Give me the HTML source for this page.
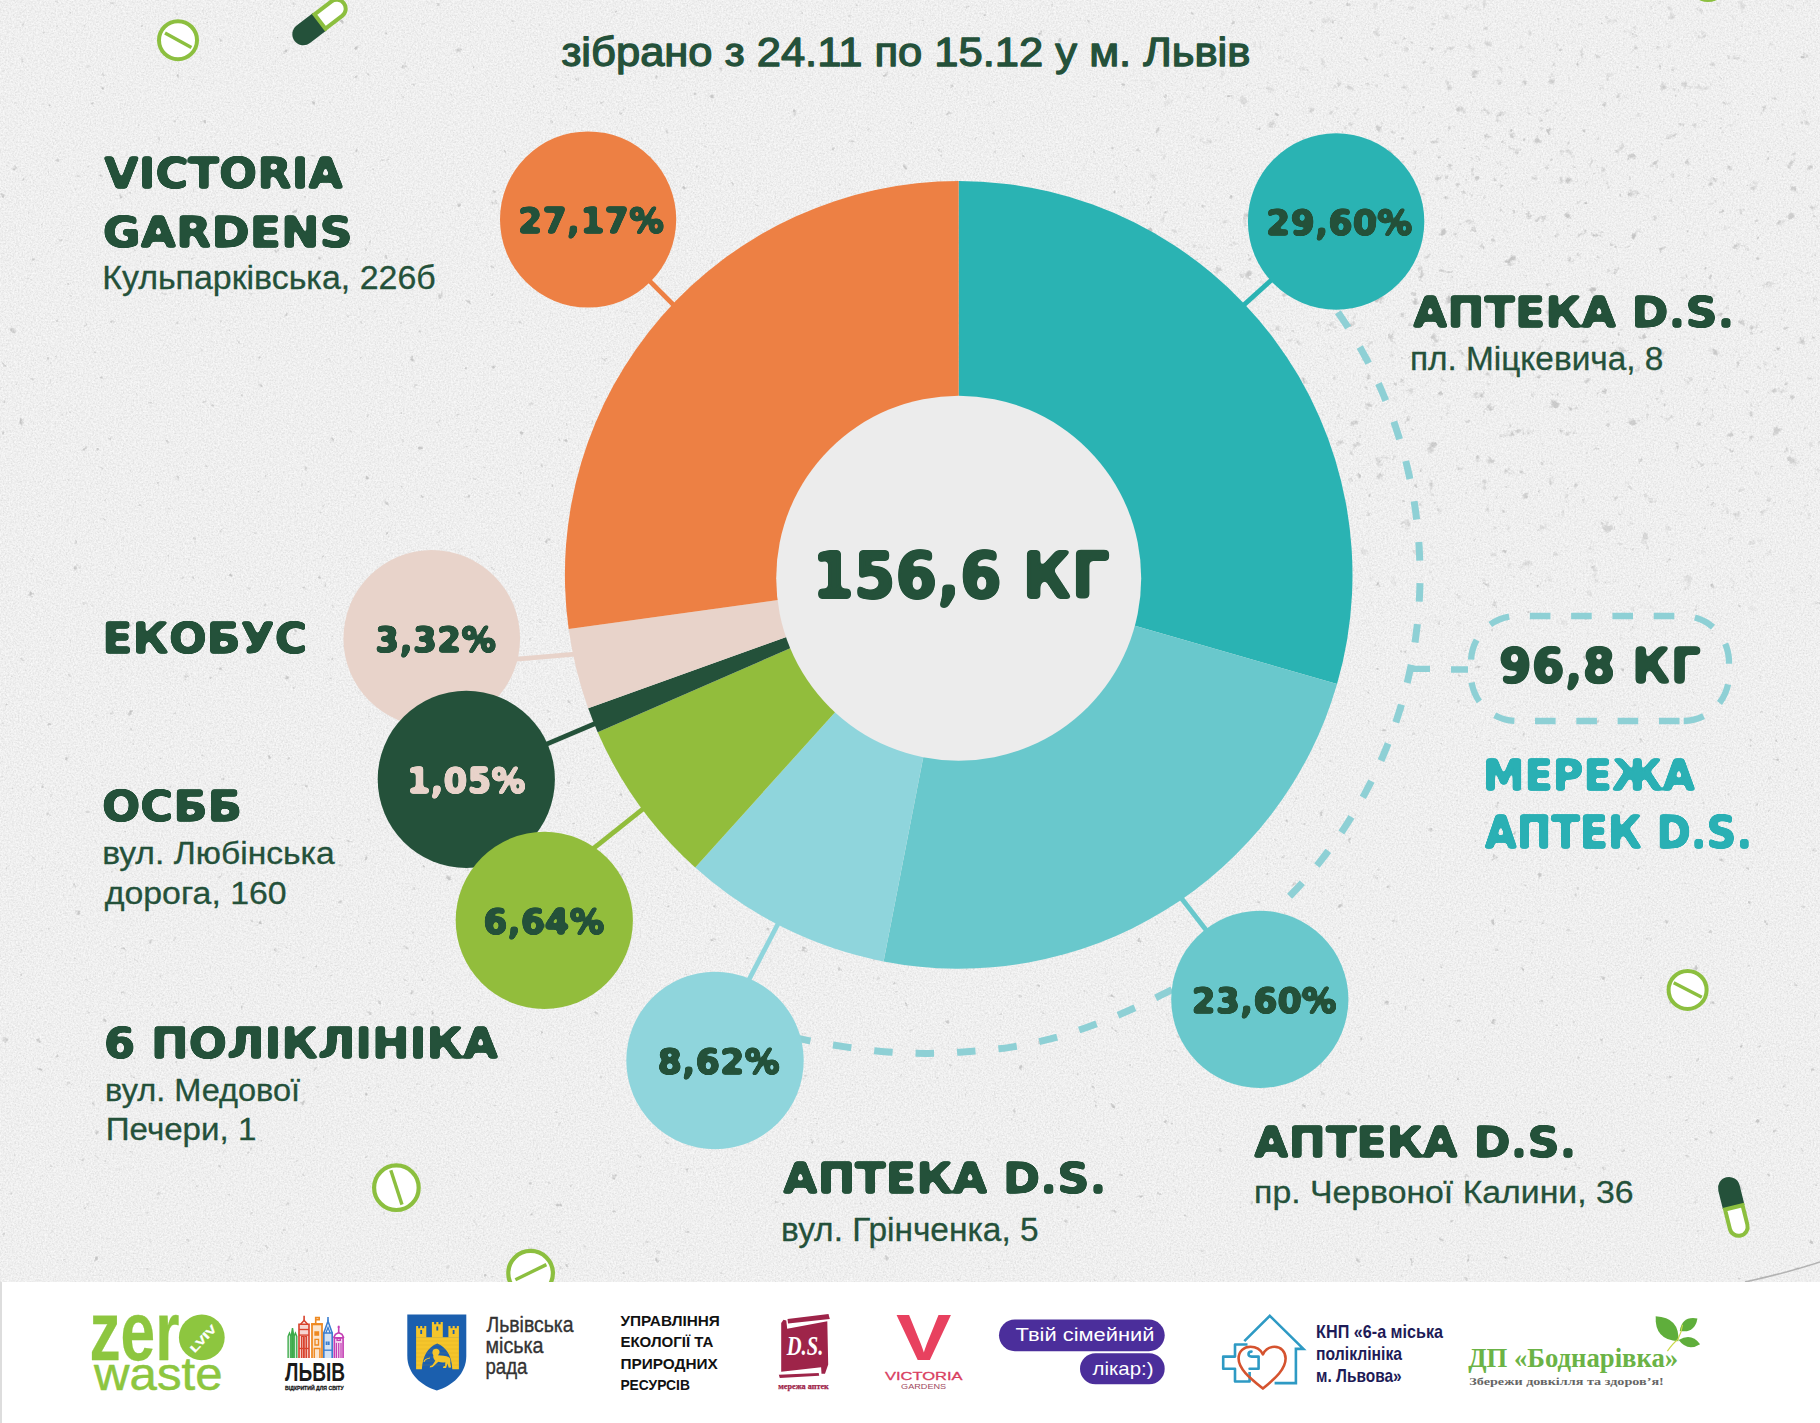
<!DOCTYPE html><html lang="uk"><head><meta charset="utf-8"><title>Інфографіка</title>
<style>html,body{margin:0;padding:0;background:#fff}body{width:1820px;height:1423px;overflow:hidden}svg{display:block}text{white-space:pre}</style></head><body>
<svg width="1820" height="1423" viewBox="0 0 1820 1423">
<defs><filter id="grain" x="0" y="0" width="100%" height="100%"><feTurbulence type="fractalNoise" baseFrequency="0.6" numOctaves="2" seed="3"/><feColorMatrix type="matrix" values="0 0 0 0 0.5  0 0 0 0 0.5  0 0 0 0 0.5  1.6 0 0 0 -0.62"/></filter><filter id="grainw" x="0" y="0" width="100%" height="100%"><feTurbulence type="fractalNoise" baseFrequency="0.55" numOctaves="2" seed="8"/><feColorMatrix type="matrix" values="0 0 0 0 1  0 0 0 0 1  0 0 0 0 1  2.2 0 0 0 -1.0"/></filter><filter id="smudge" x="0" y="0" width="100%" height="100%"><feTurbulence type="fractalNoise" baseFrequency="0.11" numOctaves="3" seed="21"/><feColorMatrix type="matrix" values="0 0 0 0 0.35  0 0 0 0 0.35  0 0 0 0 0.35  8 0 0 0 -6.05"/></filter><filter id="smudge2" x="0" y="0" width="100%" height="100%"><feTurbulence type="fractalNoise" baseFrequency="0.075" numOctaves="4" seed="5"/><feColorMatrix type="matrix" values="0 0 0 0 0.38  0 0 0 0 0.38  0 0 0 0 0.38  8 0 0 0 -5.6"/></filter><filter id="r1" color-interpolation-filters="sRGB" filterUnits="userSpaceOnUse" x="0" y="0" width="1820" height="1290"><feGaussianBlur stdDeviation="1.45"/><feComponentTransfer><feFuncA type="linear" slope="6" intercept="-2.5"/></feComponentTransfer></filter><filter id="r2" color-interpolation-filters="sRGB" filterUnits="userSpaceOnUse" x="700" y="480" width="1100" height="260"><feGaussianBlur stdDeviation="2.1"/><feComponentTransfer><feFuncA type="linear" slope="7" intercept="-3"/></feComponentTransfer></filter><radialGradient id="rg" cx="0.86" cy="0.22" r="0.3"><stop offset="0" stop-color="#fff" stop-opacity="1"/><stop offset="0.6" stop-color="#fff" stop-opacity="0.7"/><stop offset="1" stop-color="#fff" stop-opacity="0"/></radialGradient><mask id="mright"><rect width="1820" height="1282" fill="url(#rg)"/></mask></defs>
<rect width="1820" height="1423" fill="#fff"/>
<rect x="0" y="0" width="1820" height="1282" fill="#F1F1F1"/>
<rect x="0" y="0" width="1820" height="1282" filter="url(#grain)" opacity="0.45"/>
<rect x="0" y="0" width="1820" height="1282" filter="url(#grainw)" opacity="0.8"/>
<rect x="0" y="0" width="1820" height="1282" filter="url(#smudge)" opacity="0.5"/>
<g mask="url(#mright)"><rect x="0" y="0" width="1820" height="1282" filter="url(#smudge2)" opacity="0.6"/></g>
<path d="M1745,1282 Q1790,1272 1820,1262" stroke="#999" stroke-width="1.5" fill="none" opacity="0.7"/>
<rect x="0" y="1282" width="2" height="141" fill="#ddd"/>
<circle cx="178" cy="40.2" r="19" fill="#fff" stroke="#8CBF3F" stroke-width="4"/><line x1="165" y1="33" x2="191.4" y2="47.5" stroke="#8CBF3F" stroke-width="3.4" stroke-linecap="butt"/>
<g transform="translate(320 21.5) rotate(232.6)"><path d="M-11.0,0 L-11.0,-21.0 A11.0,11.0 0 0 1 11.0,-21.0 L11.0,0 Z" fill="#24513A"/><path d="M-9.0,0 L-9.0,21.0 A9.0,9.0 0 0 0 9.0,21.0 L9.0,0 Z" fill="#fff" stroke="#8CBF3F" stroke-width="4"/></g>
<circle cx="396.4" cy="1187.7" r="22.3" fill="#fff" stroke="#8CBF3F" stroke-width="4.2"/><line x1="390.8" y1="1170.3" x2="402" y2="1204.6" stroke="#8CBF3F" stroke-width="3.4" stroke-linecap="butt"/>
<circle cx="530.6" cy="1273.2" r="22.3" fill="#fff" stroke="#8CBF3F" stroke-width="4.2"/><line x1="515.4" y1="1279.8" x2="546.4" y2="1264.6" stroke="#8CBF3F" stroke-width="3.4" stroke-linecap="butt"/>
<circle cx="1687.6" cy="989.9" r="19" fill="#fff" stroke="#8CBF3F" stroke-width="4"/><line x1="1673.7" y1="982.7" x2="1701.8" y2="997.3" stroke="#8CBF3F" stroke-width="3.4" stroke-linecap="butt"/>
<g transform="translate(1733.8 1207.4) rotate(-14)"><path d="M-11.0,0 L-11.0,-20.0 A11.0,11.0 0 0 1 11.0,-20.0 L11.0,0 Z" fill="#24513A"/><path d="M-9.0,0 L-9.0,20.0 A9.0,9.0 0 0 0 9.0,20.0 L9.0,0 Z" fill="#fff" stroke="#8CBF3F" stroke-width="4"/></g>
<circle cx="1708" cy="-18" r="20" fill="#8CBF3F"/>
<path d="M1337.9,312.2 L1342.4,318.9 L1346.9,325.6 L1351.2,332.5 L1355.3,339.4 L1359.4,346.3 L1363.3,353.4 L1367.2,360.5 L1370.8,367.7 L1374.4,374.9 L1377.8,382.2 L1381.2,389.6 L1384.3,397.0 L1387.4,404.5 L1390.3,412.0 L1393.1,419.6 L1395.7,427.2 L1398.2,434.9 L1400.6,442.6 L1402.9,450.4 L1405.0,458.2 L1407.0,466.0 L1408.8,473.9 L1410.5,481.8 L1412.1,489.7 L1413.5,497.6 L1414.8,505.6 L1415.9,513.6 L1416.9,521.6 L1417.8,529.6 L1418.5,537.7 L1419.1,545.7 L1419.5,553.8 L1419.8,561.9 L1420.0,569.9 L1420.0,578.0 L1419.9,586.1 L1419.6,594.2 L1419.2,602.2 L1418.6,610.3 L1418.0,618.3 L1417.1,626.4 L1416.1,634.4 L1415.0,642.4 L1413.8,650.4 L1412.4,658.3 L1410.9,666.2 L1409.2,674.1 L1407.4,682.0 L1405.5,689.8 L1403.4,697.6 L1401.2,705.4 L1398.8,713.1 L1396.3,720.8 L1393.7,728.5 L1390.9,736.0 L1388.1,743.6 L1385.0,751.1 L1381.9,758.5 L1378.6,765.9 L1375.2,773.2 L1371.7,780.5 L1368.0,787.7 L1364.2,794.8 L1360.3,801.9 L1356.3,808.9 L1352.1,815.8 L1347.8,822.6 L1343.4,829.4 L1338.9,836.1 L1334.3,842.7 L1329.6,849.2 L1324.7,855.7 L1319.7,862.1 L1314.6,868.3 L1309.5,874.5 L1304.2,880.6 L1298.8,886.6 L1293.2,892.5 L1287.6,898.3 L1281.9,904.0" fill="none" stroke="#8ED0D5" stroke-width="7" stroke-dasharray="18.5 22.6" stroke-dashoffset="0"/>
<path d="M1200.0,975.0 C1194.3,978.0 1177.4,987.1 1165.7,992.9 C1154.0,998.7 1142.4,1004.5 1130.0,1010.0 C1117.6,1015.5 1104.5,1020.9 1091.4,1025.7 C1078.3,1030.5 1064.7,1035.0 1051.4,1038.6 C1038.1,1042.2 1025.0,1045.0 1011.4,1047.1 C997.8,1049.2 983.8,1050.4 970.0,1051.4 C956.2,1052.5 942.3,1053.3 928.6,1053.4 C914.9,1053.5 901.6,1053.0 888.0,1052.0 C874.4,1051.0 860.3,1049.0 847.1,1047.1 C833.9,1045.2 821.5,1043.1 808.6,1040.6 C795.8,1038.1 776.4,1033.4 770.0,1032.0" fill="none" stroke="#8ED0D5" stroke-width="7" stroke-dasharray="18.5 23" stroke-dashoffset="10"/>
<path d="M1409,668.8 H1430 M1451,669.5 H1468" fill="none" stroke="#8ED0D5" stroke-width="6.3"/>
<path d="M1471,668.5 V662 A46,46 0 0 1 1517,616 H1683 A46,46 0 0 1 1729,662 V675 A46,46 0 0 1 1683,721" fill="none" stroke="#8ED0D5" stroke-width="6.3" stroke-dasharray="20.6 20.7" stroke-dashoffset="-8.86"/>
<path d="M1471,668.5 V675 A46,46 0 0 0 1517,721 H1683" fill="none" stroke="#8ED0D5" stroke-width="6.3" stroke-dasharray="20.6 20.7" stroke-dashoffset="-14.06"/>
<line x1="588.1" y1="219.5" x2="690" y2="321.4" stroke="#ED8044" stroke-width="4.8"/>
<line x1="1336.1" y1="221.5" x2="1231.2" y2="316.4" stroke="#2AB3B3" stroke-width="4.8"/>
<line x1="500" y1="660.6" x2="590" y2="652.8" stroke="#E8D3CA" stroke-width="4.8"/>
<line x1="466.3" y1="778.2" x2="610" y2="717.2" stroke="#24513A" stroke-width="4.8"/>
<line x1="570" y1="867.2" x2="660" y2="795.4" stroke="#92BD3C" stroke-width="4.8"/>
<line x1="738.4" y1="1000" x2="787.8" y2="905" stroke="#8FD5DC" stroke-width="4.8"/>
<line x1="1259.8" y1="999.3" x2="1170" y2="883.5" stroke="#69C8CC" stroke-width="4.8"/>
<path d="M958.70,574.90 L958.70,181.10 A393.8,393.8 0 0 1 1337.05,684.11 Z" fill="#2AB3B3"/>
<path d="M958.70,574.90 L1337.05,684.11 A393.8,393.8 0 0 1 883.56,961.46 Z" fill="#69C8CC"/>
<path d="M958.70,574.90 L883.56,961.46 A393.8,393.8 0 0 1 695.20,867.55 Z" fill="#8FD5DC"/>
<path d="M958.70,574.90 L695.20,867.55 A393.8,393.8 0 0 1 597.67,732.18 Z" fill="#92BD3C"/>
<path d="M958.70,574.90 L597.67,732.18 A393.8,393.8 0 0 1 588.18,708.29 Z" fill="#24513A"/>
<path d="M958.70,574.90 L588.18,708.29 A393.8,393.8 0 0 1 568.64,629.03 Z" fill="#E8D3CA"/>
<path d="M958.70,574.90 L568.64,629.03 A393.8,393.8 0 0 1 958.70,181.10 Z" fill="#ED8044"/>
<circle cx="958.7" cy="578.2" r="182.5" fill="#ECECEC"/>
<circle cx="588.1" cy="219.5" r="88.1" fill="#ED8044"/>
<circle cx="1336.1" cy="221.5" r="88.2" fill="#2AB3B3"/>
<circle cx="431.75" cy="638.4" r="88.3" fill="#E8D3CA"/>
<circle cx="466.3" cy="779.3" r="88.6" fill="#24513A"/>
<circle cx="544.3" cy="920.4" r="88.6" fill="#92BD3C"/>
<circle cx="715" cy="1060.5" r="88.7" fill="#8FD5DC"/>
<circle cx="1259.8" cy="999.3" r="88.6" fill="#69C8CC"/>
<rect x="2" y="1282" width="1818" height="141" fill="#fff"/>
<text x="201.8" y="1353" text-anchor="middle" font-family='"Liberation Sans", sans-serif' font-weight="700" font-size="58" fill="#8DC63F">o</text>
<circle cx="201.8" cy="1337.4" r="22.9" fill="#8DC63F"/>
<path d="M288.1,1358.0 L288.1,1336.5 L289.5,1333.0 L290.9,1336.5 L290.9,1358.0" fill="#3DAA4A" fill-opacity="0.22" stroke="#3DAA4A" stroke-width="1.35" stroke-linejoin="miter"/>
<path d="M291.1,1358.0 L291.1,1336.5 L292.5,1328.1 L293.9,1336.5 L293.9,1358.0" fill="#3DAA4A" fill-opacity="0.22" stroke="#3DAA4A" stroke-width="1.35" stroke-linejoin="miter"/>
<path d="M294.0,1358.0 L294.0,1336.5 L295.4,1333.0 L296.8,1336.5 L296.8,1358.0" fill="#3DAA4A" fill-opacity="0.22" stroke="#3DAA4A" stroke-width="1.35" stroke-linejoin="miter"/>
<path d="M292.5,1328.1 L292.5,1358.0" fill="none" stroke="#3DAA4A" stroke-width="1.08" stroke-linejoin="miter"/>
<path d="M299.0,1358.0 L299.0,1324.2 L309.0,1324.2 L309.0,1358.0" fill="#D8432E" fill-opacity="0.22" stroke="#D8432E" stroke-width="1.62" stroke-linejoin="miter"/>
<path d="M300.6,1324.2 L304.1,1320.4 L307.6,1324.2" fill="none" stroke="#D8432E" stroke-width="1.49" stroke-linejoin="miter"/>
<path d="M304.1,1320.4 L304.1,1315.8" fill="none" stroke="#D8432E" stroke-width="1.62" stroke-linejoin="miter"/>
<path d="M299.0,1329.5 L309.0,1329.5" fill="none" stroke="#D8432E" stroke-width="1.35" stroke-linejoin="miter"/>
<path d="M299.0,1335.1 L309.0,1335.1" fill="none" stroke="#D8432E" stroke-width="1.35" stroke-linejoin="miter"/>
<path d="M299.0,1348.5 L309.0,1348.5" fill="none" stroke="#D8432E" stroke-width="1.35" stroke-linejoin="miter"/>
<path d="M301.6,1358.0 L301.6,1336.5 L303.4,1336.5 L303.4,1358.0" fill="none" stroke="#D8432E" stroke-width="1.22" stroke-linejoin="miter"/>
<path d="M304.8,1358.0 L304.8,1336.5 L306.5,1336.5 L306.5,1358.0" fill="none" stroke="#D8432E" stroke-width="1.22" stroke-linejoin="miter"/>
<path d="M312.0,1358.0 L312.0,1324.2 L322.0,1324.2 L322.0,1358.0" fill="#EE8A22" fill-opacity="0.22" stroke="#EE8A22" stroke-width="1.76" stroke-linejoin="miter"/>
<path d="M311.1,1324.2 L322.8,1324.2" fill="none" stroke="#EE8A22" stroke-width="2.16" stroke-linejoin="miter"/>
<path d="M315.7,1324.2 L315.7,1317.6 L319.2,1317.6 L319.2,1319.7 L316.0,1319.7" fill="none" stroke="#EE8A22" stroke-width="1.62" stroke-linejoin="miter"/>
<path d="M315.0,1332.0 L318.5,1332.0 L318.5,1335.1 L315.0,1335.1 Z" fill="#EE8A22" stroke="#EE8A22" stroke-width="1.35" stroke-linejoin="miter"/>
<path d="M315.0,1339.4 L318.5,1339.4 L318.5,1345.0 L315.0,1345.0 Z" fill="none" stroke="#EE8A22" stroke-width="1.35" stroke-linejoin="miter"/>
<path d="M314.3,1358.0 L314.3,1348.5 L319.9,1348.5 L319.9,1358.0" fill="none" stroke="#EE8A22" stroke-width="1.35" stroke-linejoin="miter"/>
<path d="M323.8,1358.0 L323.8,1333.0 L332.2,1333.0 L332.2,1358.0" fill="#3C7FD0" fill-opacity="0.22" stroke="#3C7FD0" stroke-width="1.62" stroke-linejoin="miter"/>
<path d="M323.8,1333.0 L328.0,1321.1 L332.2,1333.0" fill="none" stroke="#3C7FD0" stroke-width="1.62" stroke-linejoin="miter"/>
<path d="M328.0,1321.1 L328.0,1316.9" fill="none" stroke="#3C7FD0" stroke-width="1.62" stroke-linejoin="miter"/>
<path d="M325.9,1333.0 L328.0,1327.4 L330.1,1333.0" fill="none" stroke="#3C7FD0" stroke-width="1.35" stroke-linejoin="miter"/>
<path d="M323.8,1350.2 L332.2,1350.2" fill="none" stroke="#3C7FD0" stroke-width="1.35" stroke-linejoin="miter"/>
<path d="M326.6,1341.5 L326.6,1345.0" fill="none" stroke="#3C7FD0" stroke-width="1.89" stroke-linejoin="miter"/>
<path d="M328.7,1341.5 L328.7,1345.0" fill="none" stroke="#3C7FD0" stroke-width="1.89" stroke-linejoin="miter"/>
<path d="M334.3,1358.0 L334.3,1337.9 L343.1,1337.9 L343.1,1358.0" fill="#C43FB4" fill-opacity="0.22" stroke="#C43FB4" stroke-width="1.62" stroke-linejoin="miter"/>
<path d="M333.6,1337.9 L335.4,1334.4 L338.7,1332.7 L342.0,1334.4 L343.8,1337.9" fill="none" stroke="#C43FB4" stroke-width="1.62" stroke-linejoin="miter"/>
<path d="M338.7,1332.7 L338.7,1325.7" fill="none" stroke="#C43FB4" stroke-width="1.62" stroke-linejoin="miter"/>
<path d="M337.6,1327.1 L339.7,1327.1" fill="none" stroke="#C43FB4" stroke-width="1.35" stroke-linejoin="miter"/>
<path d="M336.4,1358.0 L336.4,1342.9" fill="none" stroke="#C43FB4" stroke-width="1.22" stroke-linejoin="miter"/>
<path d="M338.7,1358.0 L338.7,1342.9" fill="none" stroke="#C43FB4" stroke-width="1.22" stroke-linejoin="miter"/>
<path d="M341.0,1358.0 L341.0,1342.9" fill="none" stroke="#C43FB4" stroke-width="1.22" stroke-linejoin="miter"/>
<path d="M337.1,1338.3 L340.3,1338.3 L340.3,1340.4 L337.1,1340.4 Z" fill="none" stroke="#C43FB4" stroke-width="1.35" stroke-linejoin="miter"/>
<path d="M407.3,1314.4 H466.3 V1356 C466.3,1374 452,1386 436.8,1390.4 C421.6,1386 407.3,1374 407.3,1356 Z" fill="#1B5FAE"/>
<path fill="#F5C52B" fill-rule="evenodd" d="M416.1,1337.2 H458.9 V1369.2 H416.1 Z M421.9,1369.2 C422.5,1356 428,1347 437.2,1343.4 C446.4,1347 451.9,1356 452.3,1369.2 Z"/>
<path d="M416.1,1337.4 V1326 h2.039999999999998 v2.2 h2.039999999999998 v-2.2 h2.039999999999998 v2.2 h2.039999999999998 v-2.2 h2.039999999999998 V1337.4 Z" fill="#F5C52B"/>
<path d="M431.9,1337.4 V1322.1 h2.180000000000007 v2.2 h2.180000000000007 v-2.2 h2.180000000000007 v2.2 h2.180000000000007 v-2.2 h2.180000000000007 V1337.4 Z" fill="#F5C52B"/>
<path d="M448.4,1337.4 V1326 h2.1 v2.2 h2.1 v-2.2 h2.1 v2.2 h2.1 v-2.2 h2.1 V1337.4 Z" fill="#F5C52B"/>
<rect x="420.3" y="1330" width="1.8" height="4" fill="#1B5FAE"/>
<rect x="436.40000000000003" y="1326.5" width="1.8" height="4" fill="#1B5FAE"/>
<rect x="452.70000000000005" y="1330" width="1.8" height="4" fill="#1B5FAE"/>
<line x1="416.1" y1="1341" x2="458.9" y2="1341" stroke="#C99A1E" stroke-width="0.35" opacity="0.6"/>
<line x1="416.1" y1="1345" x2="458.9" y2="1345" stroke="#C99A1E" stroke-width="0.35" opacity="0.6"/>
<line x1="416.1" y1="1349" x2="458.9" y2="1349" stroke="#C99A1E" stroke-width="0.35" opacity="0.6"/>
<line x1="416.1" y1="1353" x2="458.9" y2="1353" stroke="#C99A1E" stroke-width="0.35" opacity="0.6"/>
<line x1="416.1" y1="1357" x2="458.9" y2="1357" stroke="#C99A1E" stroke-width="0.35" opacity="0.6"/>
<line x1="416.1" y1="1361" x2="458.9" y2="1361" stroke="#C99A1E" stroke-width="0.35" opacity="0.6"/>
<line x1="416.1" y1="1365" x2="458.9" y2="1365" stroke="#C99A1E" stroke-width="0.35" opacity="0.6"/>
<path fill="#F5C52B" d="M433.5,1349.5 c2.5,-1.5 5.5,-1 6,1.8 c0.3,1.8 -0.6,3 -1.6,4 c3.5,0.6 8,0.2 11,2 c1.6,1.2 1.8,3.4 1.4,5.6 l0.8,4.6 l-2.4,0.2 l-1.2,-4.2 l-1.4,4.4 l-3.2,0 l0.6,-1.6 l1.6,-0.4 l0.2,-3.6 c-2.6,0.4 -5,0.2 -7,-0.6 l-5.6,5.2 l-3,0.6 l0.4,-1.6 l2.2,-0.6 l3,-4.6 c-1.6,-1.2 -2.4,-3.2 -2,-5.4 c-1.2,-2 -1.2,-4.4 0.2,-5.8 Z"/>
<path d="M430,1358 c-3,0.5 -5.5,1.5 -6,4" stroke="#F5C52B" stroke-width="1.1" fill="none"/>
<path d="M781.2,1323.1 L783.5,1319.8 L786.3,1320.5 L787.2,1328.8 L827.3,1321.3 L828.2,1364.6 L825.0,1373.8 L821.5,1373.8 L821.1,1367.2 L781.2,1371.8 Z" fill="#9E2449"/>
<path d="M787.5,1319.0 L828.5,1314.1 L829.8,1319.0 L788.1,1323.4 Z" fill="#9E2449"/>
<path d="M778.8,1374.8 L818.7,1372.9 L819.2,1375.7 L779.8,1378.0 Z" fill="#9E2449"/>
<rect x="999" y="1319.5" width="165.7" height="31.7" rx="15.85" fill="#4B2E9B"/>
<rect x="1080" y="1353.3" width="84.7" height="31" rx="15.5" fill="#4B2E9B"/>
<path d="M1244.3,1341.2 L1269.8,1315.8 L1303.4,1348.9 H1295.9 V1383.1 H1274.6" fill="none" stroke="#2E9AC4" stroke-width="2.6" stroke-linejoin="miter"/>
<path d="M1247.5,1344.5 H1235 V1356.6 H1223.2 V1368.8 H1235 V1381.5 H1249.6 V1372" fill="none" stroke="#2E9AC4" stroke-width="2.6" stroke-linejoin="round"/>
<path d="M1249.6,1368.8 H1258.6 V1356.6 H1251.5 C1247.5,1356.6 1247.5,1351.6 1251.5,1351.6" fill="none" stroke="#2E9AC4" stroke-width="2.6" stroke-linejoin="round" stroke-linecap="round"/>
<path d="M1262.9,1388.6 C1250,1378 1238.6,1369 1238.6,1358.5 C1238.6,1351 1244,1346.8 1250.5,1346.8 C1256,1346.8 1260.5,1349.5 1262.9,1354.3 C1265.3,1349.5 1269.8,1346.8 1274.5,1346.8 C1281,1346.8 1285.6,1351.5 1285.6,1358.5 C1285.6,1369 1275.8,1378 1262.9,1388.6 Z" fill="none" stroke="#D5532F" stroke-width="2.6" stroke-linejoin="round"/>
<path d="M1678.4,1341.2 Q1679.7,1317.3 1655.7,1316.2 Q1654.5,1340.1 1678.4,1341.2 Z" fill="#5FAE3B"/>
<path d="M1679.8,1330.9 Q1694.9,1333.7 1697.4,1318.5 Q1682.2,1315.7 1679.8,1330.9 Z" fill="#5FAE3B"/>
<path d="M1678.7,1340.1 Q1687.5,1352.0 1700.1,1344.2 Q1691.3,1332.4 1678.7,1340.1 Z" fill="#5FAE3B"/>
<path d="M1667.4,1351.1 Q1673.4,1342.8 1677.7,1339.8 Q1681.7,1332.3 1682.5,1324.7" fill="none" stroke="#CBD94A" stroke-width="1.2"/>
<g filter="url(#r1)"><text id="t_vic" x="104.10" y="187.60" font-family='"DejaVu Sans", "Liberation Sans", sans-serif' font-weight="700" font-size="42.88" fill="#24513A" stroke="#24513A" stroke-width="1.3" stroke-linejoin="round" textLength="239.00" lengthAdjust="spacingAndGlyphs" style="">VICTORIA</text>
<text id="t_gar" x="102.70" y="246.90" font-family='"DejaVu Sans", "Liberation Sans", sans-serif' font-weight="700" font-size="42.88" fill="#24513A" stroke="#24513A" stroke-width="1.3" stroke-linejoin="round" textLength="250.00" lengthAdjust="spacingAndGlyphs" style="">GARDENS</text>
<text id="t_eko" x="102.30" y="652.60" font-family='"DejaVu Sans", "Liberation Sans", sans-serif' font-weight="700" font-size="43.16" fill="#24513A" stroke="#24513A" stroke-width="1.3" stroke-linejoin="round" textLength="205.00" lengthAdjust="spacingAndGlyphs" style="">ЕКОБУС</text>
<text id="t_osbb" x="102.00" y="821.30" font-family='"DejaVu Sans", "Liberation Sans", sans-serif' font-weight="700" font-size="43.02" fill="#24513A" stroke="#24513A" stroke-width="1.3" stroke-linejoin="round" textLength="140.00" lengthAdjust="spacingAndGlyphs" style="">ОСББ</text>
<text id="t_pol" x="104.10" y="1058.00" font-family='"DejaVu Sans", "Liberation Sans", sans-serif' font-weight="700" font-size="42.47" fill="#24513A" stroke="#24513A" stroke-width="1.3" stroke-linejoin="round" textLength="394.00" lengthAdjust="spacingAndGlyphs" style="">6 ПОЛІКЛІНІКА</text>
<text id="t_apt1" x="1412.90" y="326.70" font-family='"DejaVu Sans", "Liberation Sans", sans-serif' font-weight="700" font-size="42.33" fill="#24513A" stroke="#24513A" stroke-width="1.3" stroke-linejoin="round" textLength="321.50" lengthAdjust="spacingAndGlyphs" style="">АПТЕКА D.S.</text>
<text id="t_apt2" x="783.00" y="1193.30" font-family='"DejaVu Sans", "Liberation Sans", sans-serif' font-weight="700" font-size="42.33" fill="#24513A" stroke="#24513A" stroke-width="1.3" stroke-linejoin="round" textLength="323.50" lengthAdjust="spacingAndGlyphs" style="">АПТЕКА D.S.</text>
<text id="t_apt3" x="1254.00" y="1156.50" font-family='"DejaVu Sans", "Liberation Sans", sans-serif' font-weight="700" font-size="42.88" fill="#24513A" stroke="#24513A" stroke-width="1.3" stroke-linejoin="round" textLength="322.50" lengthAdjust="spacingAndGlyphs" style="">АПТЕКА D.S.</text>
<text id="t_mer" x="1483.00" y="790.10" font-family='"DejaVu Sans", "Liberation Sans", sans-serif' font-weight="700" font-size="43.16" fill="#2AB0B4" stroke="#2AB0B4" stroke-width="1.3" stroke-linejoin="round" textLength="212.00" lengthAdjust="spacingAndGlyphs" style="">МЕРЕЖА</text>
<text id="t_aptek" x="1484.70" y="847.60" font-family='"DejaVu Sans", "Liberation Sans", sans-serif' font-weight="700" font-size="43.70" fill="#2AB0B4" stroke="#2AB0B4" stroke-width="1.3" stroke-linejoin="round" textLength="267.50" lengthAdjust="spacingAndGlyphs" style="">АПТЕК D.S.</text>
<text id="p_2717" x="518.00" y="233.30" font-family='"DejaVu Sans", "Liberation Sans", sans-serif' font-weight="700" font-size="34.84" fill="#24513A" stroke="#24513A" stroke-width="1.5" stroke-linejoin="round" textLength="146.20" lengthAdjust="spacingAndGlyphs" style="">27,17%</text>
<text id="p_2960" x="1266.00" y="235.30" font-family='"DejaVu Sans", "Liberation Sans", sans-serif' font-weight="700" font-size="34.84" fill="#24513A" stroke="#24513A" stroke-width="1.5" stroke-linejoin="round" textLength="146.40" lengthAdjust="spacingAndGlyphs" style="">29,60%</text>
<text id="p_332" x="375.10" y="652.20" font-family='"DejaVu Sans", "Liberation Sans", sans-serif' font-weight="700" font-size="34.84" fill="#24513A" stroke="#24513A" stroke-width="1.5" stroke-linejoin="round" textLength="121.10" lengthAdjust="spacingAndGlyphs" style="">3,32%</text>
<text id="p_105" x="406.70" y="793.00" font-family='"DejaVu Sans", "Liberation Sans", sans-serif' font-weight="700" font-size="34.84" fill="#E8D3CA" stroke="#E8D3CA" stroke-width="1.5" stroke-linejoin="round" textLength="118.90" lengthAdjust="spacingAndGlyphs" style="">1,05%</text>
<text id="p_664" x="483.20" y="933.60" font-family='"DejaVu Sans", "Liberation Sans", sans-serif' font-weight="700" font-size="34.84" fill="#24513A" stroke="#24513A" stroke-width="1.5" stroke-linejoin="round" textLength="121.20" lengthAdjust="spacingAndGlyphs" style="">6,64%</text>
<text id="p_862" x="657.40" y="1073.80" font-family='"DejaVu Sans", "Liberation Sans", sans-serif' font-weight="700" font-size="34.84" fill="#24513A" stroke="#24513A" stroke-width="1.5" stroke-linejoin="round" textLength="122.60" lengthAdjust="spacingAndGlyphs" style="">8,62%</text>
<text id="p_2360" x="1191.50" y="1013.00" font-family='"DejaVu Sans", "Liberation Sans", sans-serif' font-weight="700" font-size="34.84" fill="#24513A" stroke="#24513A" stroke-width="1.5" stroke-linejoin="round" textLength="145.30" lengthAdjust="spacingAndGlyphs" style="">23,60%</text></g>
<g filter="url(#r2)"><text id="t_total" x="812.20" y="598.00" font-family='"DejaVu Sans Condensed", "DejaVu Sans", sans-serif' font-weight="700" font-size="63.98" fill="#24513A" stroke="#24513A" stroke-width="2.2" stroke-linejoin="round" textLength="297.50" lengthAdjust="spacingAndGlyphs" style="">156,6 КГ</text>
<text id="t_968" x="1498.80" y="683.20" font-family='"DejaVu Sans Condensed", "DejaVu Sans", sans-serif' font-weight="700" font-size="50.10" fill="#24513A" stroke="#24513A" stroke-width="1.6" stroke-linejoin="round" textLength="202.00" lengthAdjust="spacingAndGlyphs" style="">96,8 КГ</text></g>
<text id="t_kul" x="102.20" y="288.70" font-family='"Liberation Sans", "DejaVu Sans", sans-serif' font-weight="400" font-size="32.84" fill="#24513A" stroke="#24513A" stroke-width="0.3" stroke-linejoin="round" textLength="333.50" lengthAdjust="spacingAndGlyphs" style="">Кульпарківська, 226б</text>
<text id="t_lub" x="102.20" y="863.80" font-family='"Liberation Sans", "DejaVu Sans", sans-serif' font-weight="400" font-size="32.26" fill="#24513A" stroke="#24513A" stroke-width="0.3" stroke-linejoin="round" textLength="232.50" lengthAdjust="spacingAndGlyphs" style="">вул. Любінська</text>
<text id="t_dor" x="104.70" y="903.50" font-family='"Liberation Sans", "DejaVu Sans", sans-serif' font-weight="400" font-size="32.26" fill="#24513A" stroke="#24513A" stroke-width="0.3" stroke-linejoin="round" textLength="182.00" lengthAdjust="spacingAndGlyphs" style="">дорога, 160</text>
<text id="t_med" x="105.10" y="1101.10" font-family='"Liberation Sans", "DejaVu Sans", sans-serif' font-weight="400" font-size="32.26" fill="#24513A" stroke="#24513A" stroke-width="0.3" stroke-linejoin="round" textLength="195.00" lengthAdjust="spacingAndGlyphs" style="">вул. Медової</text>
<text id="t_pech" x="105.80" y="1140.20" font-family='"Liberation Sans", "DejaVu Sans", sans-serif' font-weight="400" font-size="32.26" fill="#24513A" stroke="#24513A" stroke-width="0.3" stroke-linejoin="round" textLength="150.50" lengthAdjust="spacingAndGlyphs" style="">Печери, 1</text>
<text id="t_mic" x="1409.90" y="370.00" font-family='"Liberation Sans", "DejaVu Sans", sans-serif' font-weight="400" font-size="32.41" fill="#24513A" stroke="#24513A" stroke-width="0.3" stroke-linejoin="round" textLength="253.50" lengthAdjust="spacingAndGlyphs" style="">пл. Міцкевича, 8</text>
<text id="t_grin" x="781.10" y="1241.00" font-family='"Liberation Sans", "DejaVu Sans", sans-serif' font-weight="400" font-size="32.41" fill="#24513A" stroke="#24513A" stroke-width="0.3" stroke-linejoin="round" textLength="257.50" lengthAdjust="spacingAndGlyphs" style="">вул. Грінченка, 5</text>
<text id="t_kal" x="1254.10" y="1203.20" font-family='"Liberation Sans", "DejaVu Sans", sans-serif' font-weight="400" font-size="32.26" fill="#24513A" stroke="#24513A" stroke-width="0.3" stroke-linejoin="round" textLength="379.50" lengthAdjust="spacingAndGlyphs" style="">пр. Червоної Калини, 36</text>
<text id="t_title" x="561.40" y="65.50" font-family='"Liberation Sans", "DejaVu Sans", sans-serif' font-weight="400" font-size="40.96" fill="#24513A" stroke="#24513A" stroke-width="1.3" stroke-linejoin="round" textLength="689.00" lengthAdjust="spacingAndGlyphs" style="">зібрано з 24.11 по 15.12 у м. Львів</text>
<text id="f_zer" x="89.40" y="1359.80" font-family='"Liberation Sans", "DejaVu Sans", sans-serif' font-weight="700" font-size="82.57" fill="#8DC63F" stroke="#8DC63F" stroke-width="0.3" stroke-linejoin="round" textLength="90.00" lengthAdjust="spacingAndGlyphs" style="">zer</text>
<text id="f_waste" x="94.00" y="1389.70" font-family='"Liberation Sans", "DejaVu Sans", sans-serif' font-weight="400" font-size="46.42" fill="#8DC63F" stroke="#8DC63F" stroke-width="0.5" stroke-linejoin="round" textLength="128.50" lengthAdjust="spacingAndGlyphs" style="">waste</text>
<text id="f_lviv" x="285.10" y="1380.50" font-family='"Liberation Sans", "DejaVu Sans", sans-serif' font-weight="700" font-size="25.07" fill="#1a1a1a" textLength="60.00" lengthAdjust="spacingAndGlyphs" style="">ЛЬВІВ</text>
<text id="f_vid" x="285.10" y="1389.80" font-family='"Liberation Sans", "DejaVu Sans", sans-serif' font-weight="700" font-size="6.03" fill="#1a1a1a" stroke="#1a1a1a" stroke-width="0.3" stroke-linejoin="round" textLength="58.50" lengthAdjust="spacingAndGlyphs" style="">ВІДКРИТИЙ ДЛЯ СВІТУ</text>
<text id="f_lmr1" x="486.50" y="1332.00" font-family='"Liberation Sans", "DejaVu Sans", sans-serif' font-weight="400" font-size="21.62" fill="#333" stroke="#333" stroke-width="0.35" stroke-linejoin="round" textLength="87.00" lengthAdjust="spacingAndGlyphs" style="">Львівська</text>
<text id="f_lmr2" x="485.50" y="1352.90" font-family='"Liberation Sans", "DejaVu Sans", sans-serif' font-weight="400" font-size="21.62" fill="#333" stroke="#333" stroke-width="0.35" stroke-linejoin="round" textLength="58.00" lengthAdjust="spacingAndGlyphs" style="">міська</text>
<text id="f_lmr3" x="485.50" y="1374.00" font-family='"Liberation Sans", "DejaVu Sans", sans-serif' font-weight="400" font-size="21.62" fill="#333" stroke="#333" stroke-width="0.35" stroke-linejoin="round" textLength="42.00" lengthAdjust="spacingAndGlyphs" style="">рада</text>
<text id="f_up1" x="620.40" y="1326.00" font-family='"Liberation Sans", "DejaVu Sans", sans-serif' font-weight="700" font-size="14.35" fill="#111" textLength="99.50" lengthAdjust="spacingAndGlyphs" style="">УПРАВЛІННЯ</text>
<text id="f_up2" x="620.40" y="1347.40" font-family='"Liberation Sans", "DejaVu Sans", sans-serif' font-weight="700" font-size="14.35" fill="#111" textLength="93.00" lengthAdjust="spacingAndGlyphs" style="">ЕКОЛОГІЇ ТА</text>
<text id="f_up3" x="620.40" y="1368.70" font-family='"Liberation Sans", "DejaVu Sans", sans-serif' font-weight="700" font-size="14.35" fill="#111" textLength="97.50" lengthAdjust="spacingAndGlyphs" style="">ПРИРОДНИХ</text>
<text id="f_up4" x="620.40" y="1389.90" font-family='"Liberation Sans", "DejaVu Sans", sans-serif' font-weight="700" font-size="14.35" fill="#111" textLength="69.50" lengthAdjust="spacingAndGlyphs" style="">РЕСУРСІВ</text>
<text id="f_ds" x="786.80" y="1355.40" font-family='"Liberation Serif", "DejaVu Serif", serif' font-weight="700" font-size="28.24" fill="#fff" textLength="36.50" lengthAdjust="spacingAndGlyphs" style="font-style:italic;">D.S.</text>
<text id="f_dsm" x="778.30" y="1388.80" font-family='"Liberation Serif", "DejaVu Serif", serif' font-weight="700" font-size="8.26" fill="#9E2449" stroke="#9E2449" stroke-width="0.25" stroke-linejoin="round" textLength="50.50" lengthAdjust="spacingAndGlyphs" style="">мережа аптек</text>
<text id="f_V" x="896.10" y="1360.00" font-family='"Liberation Sans", "DejaVu Sans", sans-serif' font-weight="700" font-size="65.22" fill="#E8415F" textLength="55.50" lengthAdjust="spacingAndGlyphs" style="">V</text>
<text id="f_vic" x="885.00" y="1380.20" font-family='"Liberation Sans", "DejaVu Sans", sans-serif' font-weight="400" font-size="11.83" fill="#D9405F" stroke="#D9405F" stroke-width="0.3" stroke-linejoin="round" textLength="77.50" lengthAdjust="spacingAndGlyphs" style="">VICTORIA</text>
<text id="f_gard" x="901.10" y="1389.40" font-family='"Liberation Sans", "DejaVu Sans", sans-serif' font-weight="400" font-size="6.38" fill="#A0485E" textLength="45.00" lengthAdjust="spacingAndGlyphs" style="">GARDENS</text>
<text id="f_tviy" x="1015.50" y="1341.30" font-family='"Liberation Sans", "DejaVu Sans", sans-serif' font-weight="400" font-size="18.26" fill="#fff" textLength="139.00" lengthAdjust="spacingAndGlyphs" style="">Твій сімейний</text>
<text id="f_likar" x="1092.50" y="1374.50" font-family='"Liberation Sans", "DejaVu Sans", sans-serif' font-weight="400" font-size="18.26" fill="#fff" textLength="61.00" lengthAdjust="spacingAndGlyphs" style="">лікар:)</text>
<text id="f_knp1" x="1316.10" y="1337.80" font-family='"Liberation Sans", "DejaVu Sans", sans-serif' font-weight="700" font-size="18.84" fill="#1E1B57" textLength="127.00" lengthAdjust="spacingAndGlyphs" style="">КНП «6-а міська</text>
<text id="f_knp2" x="1316.10" y="1359.80" font-family='"Liberation Sans", "DejaVu Sans", sans-serif' font-weight="700" font-size="18.84" fill="#1E1B57" textLength="86.00" lengthAdjust="spacingAndGlyphs" style="">поліклініка</text>
<text id="f_knp3" x="1316.10" y="1382.40" font-family='"Liberation Sans", "DejaVu Sans", sans-serif' font-weight="700" font-size="18.84" fill="#1E1B57" textLength="85.50" lengthAdjust="spacingAndGlyphs" style="">м. Львова»</text>
<text id="f_bod" x="1468.20" y="1367.30" font-family='"Liberation Serif", "DejaVu Serif", serif' font-weight="700" font-size="28.24" fill="#6BB346" textLength="210.00" lengthAdjust="spacingAndGlyphs" style="">ДП «Боднарівка»</text>
<text id="f_zber" x="1469.30" y="1384.50" font-family='"Liberation Serif", "DejaVu Serif", serif' font-weight="700" font-size="10.69" fill="#666" textLength="194.50" lengthAdjust="spacingAndGlyphs" style="">Збережи довкілля та здоров’я!</text>
<text id="f_lvivc" transform="translate(203.2 1338.6) rotate(-47)" text-anchor="middle" font-family='"Liberation Sans", sans-serif' font-weight="700" font-size="10.8" fill="#fff" stroke="#fff" stroke-width="0.3" textLength="33" lengthAdjust="spacingAndGlyphs" y="3.8">LVIV</text>
</svg></body></html>
